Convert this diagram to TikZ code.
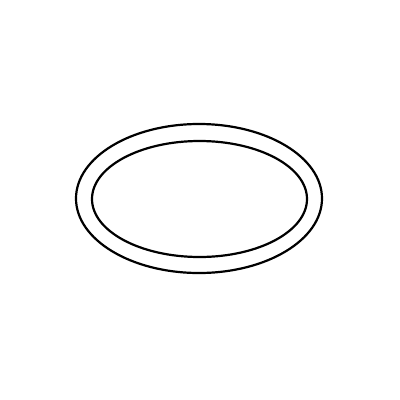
\documentclass[tikz,border=0pt]{standalone}
\begin{document}
\begin{tikzpicture}[x=1pt,y=-1pt,ring/.style={draw=black,line width=2.2pt}]
\useasboundingbox[fill=white] (0,0) rectangle (400,400);
\draw[ring] (199,198.5) ellipse [x radius=123,y radius=74.5];
\draw[ring] (199.5,199) ellipse [x radius=107.5,y radius=58];
\end{tikzpicture}
\end{document}
